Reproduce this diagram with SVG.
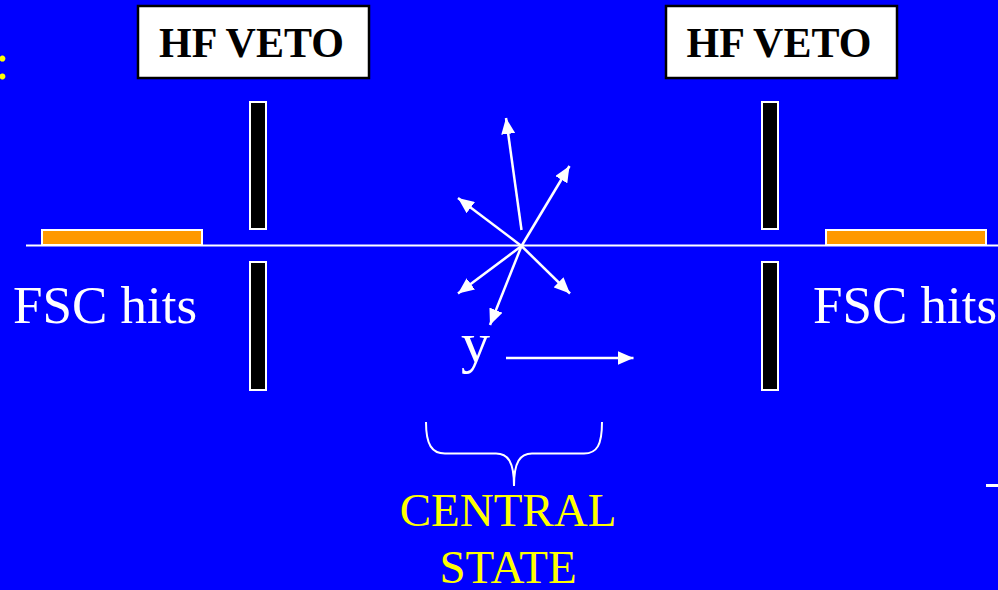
<svg xmlns="http://www.w3.org/2000/svg" width="998" height="590" viewBox="0 0 998 590">
<defs>
<marker id="ah" markerUnits="userSpaceOnUse" markerWidth="16" markerHeight="14" refX="16" refY="7" orient="auto">
<path d="M0,0 L16,7 L0,14 z" fill="#fff"/>
</marker>
<style>
.veto{fill:#fff;stroke:#000;stroke-width:2.5}
.vtxt{font-family:"Liberation Serif","Times New Roman",serif;font-weight:bold;font-size:42px;fill:#000;text-anchor:middle}
.bar{fill:#000;stroke:#fff;stroke-width:2}
.fsc{fill:#FF9900;stroke:#fff;stroke-width:2}
.lbl{font-family:"Liberation Serif","Times New Roman",serif;font-size:53px;fill:#fff}
.ylw{font-family:"Liberation Serif","Times New Roman",serif;font-size:47px;fill:#FFFF00;text-anchor:middle}
.arr{stroke:#fff;stroke-width:2.5;fill:none;marker-end:url(#ah)}
</style>
</defs>
<rect x="0" y="0" width="998" height="590" fill="#0000FF"/>
<text x="-4.5" y="79" font-family="Liberation Serif, serif" font-size="50" fill="#FFFF00">:</text>
<g id="beamline">
<line x1="26" y1="245.5" x2="998" y2="245.5" stroke="#fff" stroke-width="2"/>
</g>
<g id="hfveto-left">
<rect class="veto" x="138" y="6" width="231" height="72"/>
<text class="vtxt" x="251.5" y="57">HF VETO</text>
</g>
<g id="hfveto-right">
<rect class="veto" x="666" y="6" width="231" height="72"/>
<text class="vtxt" x="779" y="57">HF VETO</text>
</g>
<g id="bars-left">
<rect class="bar" x="250" y="102" width="16" height="127"/>
<rect class="bar" x="250" y="262" width="16" height="128"/>
</g>
<g id="bars-right">
<rect class="bar" x="762" y="102" width="16" height="127"/>
<rect class="bar" x="762" y="262" width="16" height="128"/>
</g>
<g id="fsc-left">
<rect class="fsc" x="42" y="230" width="160" height="15"/>
<text class="lbl" x="13" y="323">FSC hits</text>
</g>
<g id="fsc-right">
<rect class="fsc" x="826" y="230" width="160" height="15"/>
<text class="lbl" x="813" y="323">FSC hits</text>
</g>
<g id="connectors">
<line class="arr" x1="521.5" y1="230" x2="506" y2="118"/>
<line class="arr" x1="521.5" y1="246" x2="569.5" y2="166"/>
<line class="arr" x1="521.5" y1="246" x2="458" y2="198"/>
<line class="arr" x1="521.5" y1="246" x2="458" y2="293.5"/>
<line class="arr" x1="521.5" y1="246" x2="490" y2="325"/>
<line class="arr" x1="521.5" y1="246" x2="570" y2="293.5"/>
<line class="arr" x1="506" y1="358" x2="633.5" y2="358"/>
</g>
<g id="rapidity">
<text x="461" y="362" font-family="Liberation Serif, serif" font-size="58" fill="#fff">y</text>
</g>
<g id="central-state">
<path d="M426,422 C426,445 432,453.5 445,453.5 L496,453.5 C508,453.5 514,462 514,486 C514,462 520,453.5 532,453.5 L584,453.5 C597,453.5 602,445 602,422" fill="none" stroke="#fff" stroke-width="2"/>
<text class="ylw" x="508" y="526">CENTRAL</text>
<text class="ylw" x="508" y="583">STATE</text>
</g>
<line x1="986" y1="485.5" x2="998" y2="485.5" stroke="#fff" stroke-width="3"/>
</svg>
